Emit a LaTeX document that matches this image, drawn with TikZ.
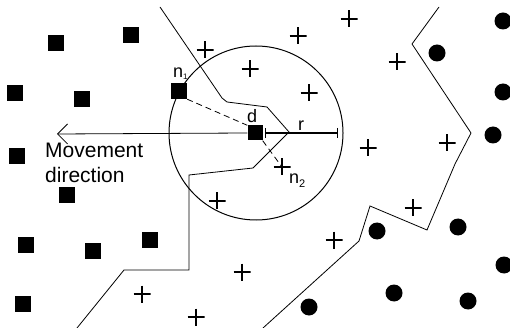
\documentclass[tikz,border=0pt]{standalone}
\usepackage{fontspec}
\setmainfont{Liberation Sans}
\usetikzlibrary{arrows.meta}
\begin{document}
\begin{tikzpicture}[x=1pt,y=-1pt,
  sq/.style={fill=black,minimum size=16pt,inner sep=0pt,shape=rectangle},
  dot/.style={fill=black,circle,minimum size=17pt,inner sep=0pt},
  plus/.style={minimum size=17pt,inner sep=0pt,path picture={\draw[line width=1.8pt] (path picture bounding box.north) -- (path picture bounding box.south) (path picture bounding box.west) -- (path picture bounding box.east);}},
  bound/.style={line width=0.8pt},
  lbl/.style={font=\fontsize{18}{20}\selectfont,inner sep=0pt},
  mvtext/.style={font=\fontsize{21}{25}\selectfont,inner sep=0pt,anchor=base west}]
\useasboundingbox (0,0) rectangle (510,328);
% boundaries
\draw[bound] (160,7) -- (222,98) -- (227,102) -- (267,107) -- (289,132) -- (253,168) -- (189,175) -- (189,270) -- (124,270) -- (77,328);
\draw[bound] (439,7) -- (412,44) -- (471,133) -- (455,164) -- (427,230) -- (370,206) -- (359,241) -- (263,328);
% circle
\node[circle,draw,line width=1pt,minimum size=174pt,inner sep=0pt] (C) at (256,133) {};
% squares
\node[sq] (s1) at (56,43) {};
\node[sq] (s2) at (131,35) {};
\node[sq] (s3) at (15,93) {};
\node[sq] (s4) at (82,99) {};
\node[sq] (s5) at (17,156) {};
\node[sq] (n1) at (179,91) {};
\node[sq] (s6) at (67,195) {};
\node[sq] (s7) at (26,245) {};
\node[sq] (s8) at (93,251) {};
\node[sq] (s9) at (150,240) {};
\node[sq] (s10) at (23,304) {};
\node[sq,minimum size=15pt] (d) at (255,133) {};
% pluses
\node[plus] (p1) at (205,50) {};
\node[plus] (p2) at (250,69) {};
\node[plus] (p3) at (298,36) {};
\node[plus] (p4) at (349,19) {};
\node[plus] (p5) at (309,93) {};
\node[plus] (p6) at (397,62) {};
\node[plus] (p7) at (368,148) {};
\node[plus] (p8) at (447,143) {};
\node[plus] (n2) at (282,167) {};
\node[plus] (p9) at (217,201) {};
\node[plus] (p10) at (242,272) {};
\node[plus] (p11) at (142,294) {};
\node[plus] (p12) at (196,317) {};
\node[plus] (p13) at (334,240) {};
\node[plus] (p14) at (413,208) {};
% dots
\node[dot] (c1) at (503,21) {};
\node[dot] (c2) at (437,53) {};
\node[dot] (c3) at (503,92) {};
\node[dot] (c4) at (493,135) {};
\node[dot] (c5) at (377,231) {};
\node[dot] (c6) at (458,227) {};
\node[dot] (c7) at (504,265) {};
\node[dot] (c8) at (394,293) {};
\node[dot] (c9) at (468,301) {};
\node[dot] (c10) at (309,307) {};
% connectors
\coordinate (mtip) at (57,134);
\coordinate (rend) at (338,133);
\draw[line width=0.8pt,-{Straight Barb[length=10pt,width=20pt,line width=0.8pt]}] (d.west) -- (mtip);
\draw[line width=1.6pt,{Bar[width=10pt,line width=1.2pt]}-{Bar[width=10pt,line width=1.2pt]}] ([xshift=2pt]d.east) -- (rend);
\draw[line width=0.8pt,dash pattern=on 6pt off 4pt] (n1.south east) -- (d.north west);
\draw[line width=0.8pt,dash pattern=on 6pt off 4pt] (d.south east) -- (n2.center);
% labels
\node[lbl,anchor=base west] (ln1) at (173,78) {n\raisebox{-2pt}{\fontsize{8}{9}\selectfont 1}};
\node[lbl,anchor=base] (ld) at (252,123) {d};
\node[lbl,anchor=base] (lr) at (301,131) {r};
\node[lbl,anchor=base west] (ln2) at (289,184) {n\raisebox{-4pt}{\fontsize{11}{12}\selectfont 2}};
\node[mvtext] (mv1) at (45,158) {Movement};
\node[mvtext] (mv2) at (45,183) {direction};
\end{tikzpicture}
\end{document}
